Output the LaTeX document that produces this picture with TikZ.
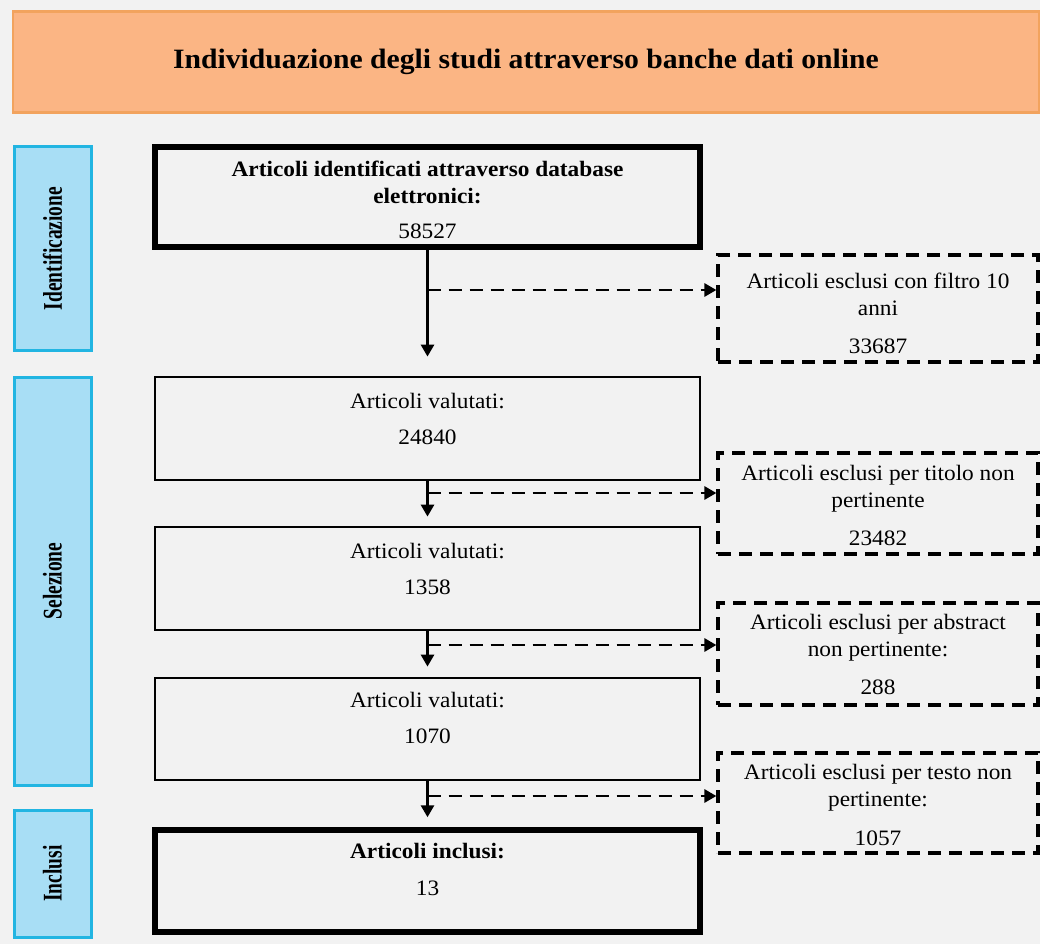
\documentclass[tikz,border=0pt]{standalone}
\usepackage{fontspec}
\setmainfont[FakeStretch=1.06]{Liberation Serif}
\newfontfamily\sidefont[FakeStretch=0.72]{Liberation Serif}
\usetikzlibrary{positioning,arrows.meta,calc}
\definecolor{bgc}{HTML}{F2F2F2}
\definecolor{headfill}{HTML}{FBB584}
\definecolor{headline}{HTML}{F2A35E}
\definecolor{phasefill}{HTML}{A8DEF5}
\definecolor{phaseline}{HTML}{22B5E2}

\begin{document}
\begin{tikzpicture}[
  x=1pt, y=-1pt,
  font=\fontsize{22}{27}\selectfont, >={Triangle[length=12pt,width=13pt]},
  phase/.style={draw=phaseline, fill=phasefill, line width=3pt, rotate=90, minimum height=77pt,
                inner sep=0pt, font=\sidefont\fontsize{27}{27}\selectfont\bfseries},
  stage/.style={draw=black, line width=2.8pt, minimum width=545pt, minimum height=103pt, inner sep=0pt},
  keystage/.style={stage, line width=5.5pt},
  excl/.style={draw=black, line width=3.2pt, dash pattern=on 13pt off 8pt, minimum width=320pt,
               minimum height=102pt, inner sep=0pt},
  txt/.style={align=center, inner sep=0pt},
  flow/.style={->, line width=2.8pt},
  branch/.style={->, line width=2.8pt, dash pattern=on 13pt off 8pt},
]
\fill[bgc] (0,0) rectangle (1040,944);
\useasboundingbox (0,0) rectangle (1040,944);
% -- header
\node[draw=headline, fill=headfill, line width=2.5pt, minimum width=1026pt, minimum height=101pt,
      font=\fontsize{28}{32}\selectfont\bfseries] (head) at (526,62)
  {Individuazione degli studi attraverso banche dati online};
% -- phases (left column)
\node[phase, minimum width=203pt] (pident) at (52.5,248.5) {Identificazione};
\node[phase, minimum width=408pt] (psel) at (52.5,581) {Selezione};
\node[phase, minimum width=127pt] (pincl) at (52.5,873.5) {Inclusi};
% -- main flow
\node[keystage, minimum height=100pt] (ident) at (427.5,197) {};
\node[stage] (eval1) at (427.5,428.5) {};
\node[stage] (eval2) at (427.5,578.5) {};
\node[stage, minimum height=102pt] (eval3) at (427.5,729) {};
\node[keystage, minimum height=102pt] (incl) at (427.5,881) {};
\node[txt, below=17pt of ident.north]
  {\textbf{Articoli identificati attraverso database}\\\textbf{elettronici:}\\[8pt]58527};
\node[txt, below=17pt of eval1.north] {Articoli valutati:\\[9pt]24840};
\node[txt, below=17pt of eval2.north] {Articoli valutati:\\[9pt]1358};
\node[txt, below=15pt of eval3.north] {Articoli valutati:\\[9pt]1070};
\node[txt, below=16pt of incl.north] {\textbf{Articoli inclusi:}\\[10pt]13};
% -- excluded (right column)
\node[excl, minimum height=107pt] (ex1) at (878,308.5) {};
\node[excl, minimum height=101pt] (ex2) at (878,503.5) {};
\node[excl] (ex3) at (878,654) {};
\node[excl, minimum height=100pt] (ex4) at (878,803) {};
\node[txt, below=19pt of ex1.north] {Articoli esclusi con filtro 10\\anni\\[11pt]33687};
\node[txt, below=14pt of ex2.north] {Articoli esclusi per titolo non\\pertinente\\[11pt]23482};
\node[txt, below=13pt of ex3.north] {Articoli esclusi per abstract\\non pertinente:\\[11pt]288};
\node[txt, below=13pt of ex4.north] {Articoli esclusi per testo non\\pertinente:\\[12pt]1057};
% -- flows
\draw[flow, shorten >=19pt] (ident) -- (eval1);
\draw[flow, shorten >=9pt] (eval1) -- (eval2);
\draw[flow, shorten >=10pt] (eval2) -- (eval3);
\draw[flow, shorten >=10pt] (eval3) -- (incl);
\coordinate (j1) at (427.5,290);
\coordinate (j2) at (427.5,493);
\coordinate (j3) at (427.5,645);
\coordinate (j4) at (427.5,796);
\draw[branch] (j1) -- (j1 -| ex1.west);
\draw[branch] (j2) -- (j2 -| ex2.west);
\draw[branch] (j3) -- (j3 -| ex3.west);
\draw[branch] (j4) -- (j4 -| ex4.west);
\end{tikzpicture}
\end{document}
